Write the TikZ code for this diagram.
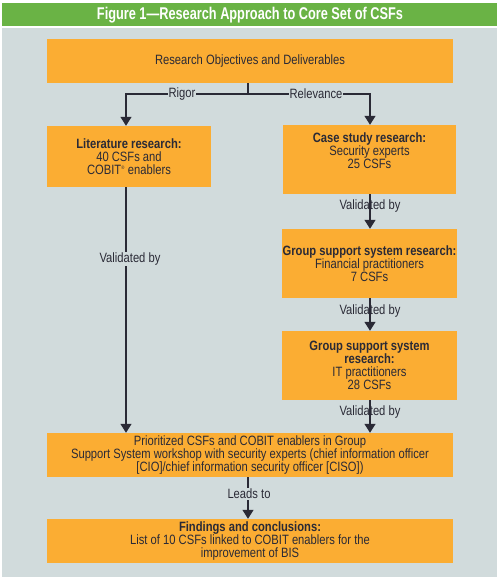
\documentclass[tikz,border=0pt]{standalone}
\usepackage{fontspec}
\setmainfont[FakeStretch=0.83]{Liberation Sans}
\newfontfamily\titlefont[FakeStretch=0.75]{Liberation Sans}
\usetikzlibrary{arrows.meta}
\definecolor{titlegreen}{HTML}{6AB345}
\definecolor{panelgrey}{HTML}{D1DBDC}
\definecolor{boxorange}{HTML}{FBAD33}
\definecolor{inkdark}{HTML}{2A2A36}
\tikzset{
  stagebox/.style={fill=boxorange, draw=none, align=center, inner sep=0pt, text=inkdark,
    font=\fontsize{13.5}{13}\selectfont},
  flowline/.style={draw=inkdark, line width=1.4pt},
  flowarrow/.style={flowline, -{Triangle[width=11pt,length=9pt]}},
  gaplabel/.style={fill=panelgrey, inner sep=1pt, text=inkdark, font=\fontsize{13.5}{13}\selectfont},
  crosslabel/.style={inner sep=1pt, text=inkdark, font=\fontsize{13.5}{13}\selectfont},
}
\begin{document}
\begin{tikzpicture}[x=1pt, y=-1pt]
\useasboundingbox (0,0) rectangle (500,580);
\fill[white] (0,0) rectangle (500,580);
% title bar and panel
\fill[titlegreen] (2,3) rectangle (497,26);
\node[text=white, font=\fontsize{17}{17}\titlefont\bfseries] (title) at (250,15) {Figure 1—Research Approach to Core Set of CSFs};
\fill[panelgrey] (2,28) rectangle (497,577);
% boxes
\node[stagebox, minimum width=406pt, minimum height=44pt] (top) at (250,61) {Research Objectives and Deliverables};
\node[stagebox, minimum width=164pt, minimum height=61pt] (lit) at (129,156.5)
  {\textbf{Literature research:}\\40 CSFs and\\COBIT\textsuperscript{\tiny\textregistered} enablers};
\node[stagebox, minimum width=173pt, minimum height=69pt] (case) at (369.5,159.5)
  {\textbf{Case study research:}\\Security experts\\25 CSFs\\[5pt]};
\node[stagebox, minimum width=175pt, minimum height=69pt] (gssa) at (369.5,263.5)
  {\textbf{Group support system research:}\\Financial practitioners\\7 CSFs};
\node[stagebox, minimum width=175pt, minimum height=69pt] (gssb) at (369.5,365.5)
  {\textbf{Group support system}\\\textbf{research:}\\IT practitioners\\28 CSFs};
\node[stagebox, minimum width=406pt, minimum height=44pt] (prio) at (250,455)
  {Prioritized CSFs and COBIT enablers in Group\\Support System workshop with security experts (chief information officer\\{[CIO]}/chief information security officer [CISO])};
\node[stagebox, minimum width=406pt, minimum height=44pt] (find) at (250,541)
  {\textbf{Findings and conclusions:}\\List of 10 CSFs linked to COBIT enablers for the\\improvement of BIS};
% connectors
\coordinate (split) at (248,94);
\coordinate (leftx) at (126,0);
\coordinate (rightx) at (370,0);
\draw[flowline] (top.south -| split) -- (split);
\draw[flowarrow] (split) -- (split -| leftx) -- (lit.north -| leftx);
\draw[flowarrow] (split) -- (split -| rightx) -- (case.north -| rightx);
\node[gaplabel] (rigor) at (182,94) {Rigor};
\node[gaplabel] (relevance) at (316,94) {Relevance};
\draw[flowarrow] (lit.south -| leftx) -- (prio.north -| leftx);
\node[gaplabel] (vleft) at (130,259) {Validated by};
\draw[flowarrow] (case.south -| rightx) -- (gssa.north -| rightx);
\node[crosslabel] (vone) at (370,206) {Validated by};
\draw[flowarrow] (gssa.south -| rightx) -- (gssb.north -| rightx);
\node[crosslabel] (vtwo) at (370,311) {Validated by};
\draw[flowarrow] (gssb.south -| rightx) -- (prio.north -| rightx);
\node[crosslabel] (vthree) at (370,412) {Validated by};
\draw[flowarrow] (prio.south -| split) -- (find.north -| split);
\node[gaplabel] (leads) at (249,494) {Leads to};
\end{tikzpicture}
\end{document}
